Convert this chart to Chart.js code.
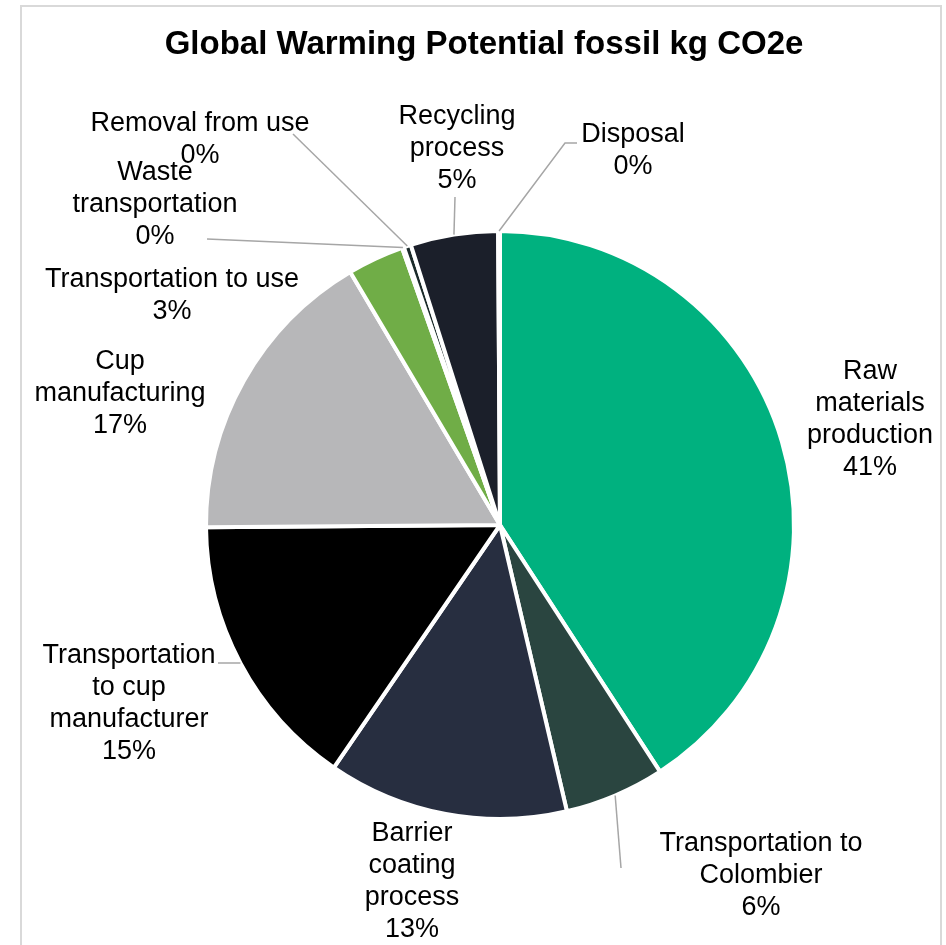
<!DOCTYPE html>
<html>
<head>
<meta charset="utf-8">
<script src="https://cdn.jsdelivr.net/npm/chart.js@4.4.1/dist/chart.umd.min.js"></script>
<style>
  html, body { margin: 0; padding: 0; background: #fff; }
  #wrap { width: 946px; height: 945px; }
</style>
</head>
<body>
<div id="wrap"><canvas id="gwpChart" width="946" height="945"></canvas></div>
<script>
// life-cycle stages, share of fossil GWP (kg CO2e)
const stages = [
    ['Raw', 'materials', 'production'],
    ['Transportation to', 'Colombier'],
    ['Barrier', 'coating', 'process'],
    ['Transportation', 'to cup', 'manufacturer'],
    ['Cup', 'manufacturing'],
    ['Transportation to use'],
    ['Waste', 'transportation'],
    ['Removal from use'],
    ['Recycling', 'process'],
    ['Disposal']
];
const shares = [40.8, 5.5, 13.2, 15.3, 16.6, 3.1, 0.1, 0.4, 4.8, 0.1];
const sliceColors = ['#00B17F', '#2A4540', '#272E40', '#000000', '#B7B7B9',
                     '#70AD47', '#22302F', '#1B2A2A', '#1B1F2A', '#1F2733'];

// label placement, offsets from the pie centre
const labelPos = [
    [370, -105], [261, 351], [-88, 357], [-371, 179], [-380, -131],
    [-328, -229], [-345, -320], [-300, -385], [-43, -376], [133, -374]
];
// leader line points (after the arc point), offsets from the pie centre
const leaders = [
    null, [[121, 343]], null, [[-282, 138]], null,
    null, [[-293, -286]], [[-207, -391]], [[-45, -328]], [[65, -382], [77, -382]]
];

const total = shares.reduce((a, b) => a + b, 0);

const labelPlugin = {
    id: 'pieLabels',
    afterDraw(chart) {
        const ctx = chart.ctx;
        const arcs = chart.getDatasetMeta(0).data;
        const cx = arcs[0].x, cy = arcs[0].y;

        ctx.save();
        // outer frame
        ctx.strokeStyle = '#D9D9D9';
        ctx.lineWidth = 2;
        ctx.beginPath();
        ctx.moveTo(21, 950);
        ctx.lineTo(21, 6);
        ctx.lineTo(941, 6);
        ctx.lineTo(941, 950);
        ctx.stroke();

        // title
        ctx.fillStyle = '#000';
        ctx.font = 'bold 33px "Liberation Sans", Arial, sans-serif';
        ctx.textAlign = 'center';
        ctx.textBaseline = 'middle';
        ctx.fillText('Global Warming Potential fossil kg CO2e', 484, 45);

        // leader lines
        ctx.strokeStyle = '#A6A6A6';
        ctx.lineWidth = 1.5;
        arcs.forEach((arc, i) => {
            if (!leaders[i]) return;
            const mid = (arc.startAngle + arc.endAngle) / 2;
            const r = arc.outerRadius;
            ctx.beginPath();
            ctx.moveTo(cx + Math.cos(mid) * r, cy + Math.sin(mid) * r);
            leaders[i].forEach(p => ctx.lineTo(cx + p[0], cy + p[1]));
            ctx.stroke();
        });

        // category + percentage labels
        ctx.font = '27px "Liberation Sans", Arial, sans-serif';
        ctx.fillStyle = '#000';
        const lineH = 32;
        stages.forEach((name, i) => {
            const pct = Math.round(shares[i] / total * 100) + '%';
            const lines = name.concat([pct]);
            const x = cx + labelPos[i][0];
            const y0 = cy + labelPos[i][1] - (lines.length - 1) * lineH / 2;
            lines.forEach((t, k) => ctx.fillText(t, x, y0 + k * lineH));
        });
        ctx.restore();
    }
};

new Chart(document.getElementById('gwpChart'), {
    type: 'pie',
    data: {
        labels: stages.map(s => s.join(' ')),
        datasets: [{
            data: shares,
            backgroundColor: sliceColors,
            borderColor: '#ffffff',
            borderWidth: 4
        }]
    },
    options: {
        responsive: false,
        animation: false,
        layout: { padding: { left: 204, top: 229, right: 150, bottom: 124 } },
        plugins: {
            legend: { display: false },
            tooltip: { enabled: false },
            title: { display: false }
        }
    },
    plugins: [labelPlugin]
});
</script>
</body>
</html>
